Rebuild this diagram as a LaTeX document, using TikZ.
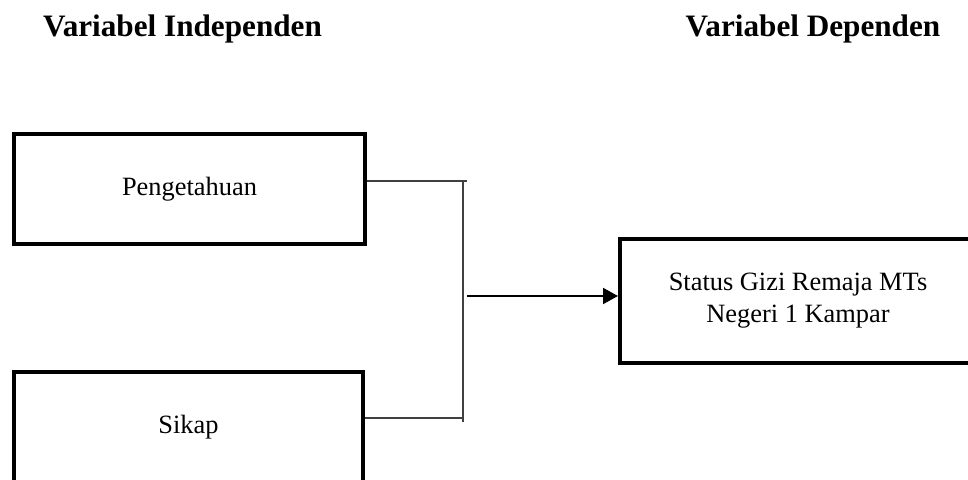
\documentclass[tikz,border=0pt]{standalone}
\usepackage{fontspec}
\setmainfont{Liberation Serif}
\usetikzlibrary{arrows.meta,positioning}

\tikzset{
    varbox/.style={draw, line width=2pt, inner sep=0pt, align=center,
        font=\fontsize{13.2}{16}\selectfont},
    judul/.style={anchor=base, font=\bfseries\fontsize{15.6}{18}\selectfont},
    garis/.style={line width=0.6pt, black!75},
}

\begin{document}
\begin{tikzpicture}[x=0.5pt, y=-0.5pt]
    \useasboundingbox (0,0) rectangle (968,480);

    \node[judul] (indep) at (182.5,37) {Variabel Independen};
    \node[judul] (dep) at (813,37) {Variabel Dependen};

    \node[varbox, minimum width=175.5pt, minimum height=55pt] (peng) at (189.5,189) {Pengetahuan};
    \node[varbox, minimum width=174.5pt, minimum height=55pt] (sikap) at (188.5,427) {Sikap};
    \node[varbox, minimum width=178pt, minimum height=62pt] (status) at (798,301)
        {Status Gizi Remaja MTs\\Negeri 1 Kampar};

    \coordinate (atas) at (463,181);
    \coordinate (bawah) at (463,418);
    \coordinate (junc) at (467,296);

    \draw[garis] ([yshift=4pt]peng.east) -- ([xshift=2pt]atas);
    \draw[garis] ([yshift=4.5pt]sikap.east) -- (bawah);
    \draw[garis] (atas) -- ([yshift=-2pt]bawah);
    \draw[line width=1pt, -{Triangle[length=7.5pt,width=8pt]}] (junc) -- (junc -| status.west);

\end{tikzpicture}
\end{document}
